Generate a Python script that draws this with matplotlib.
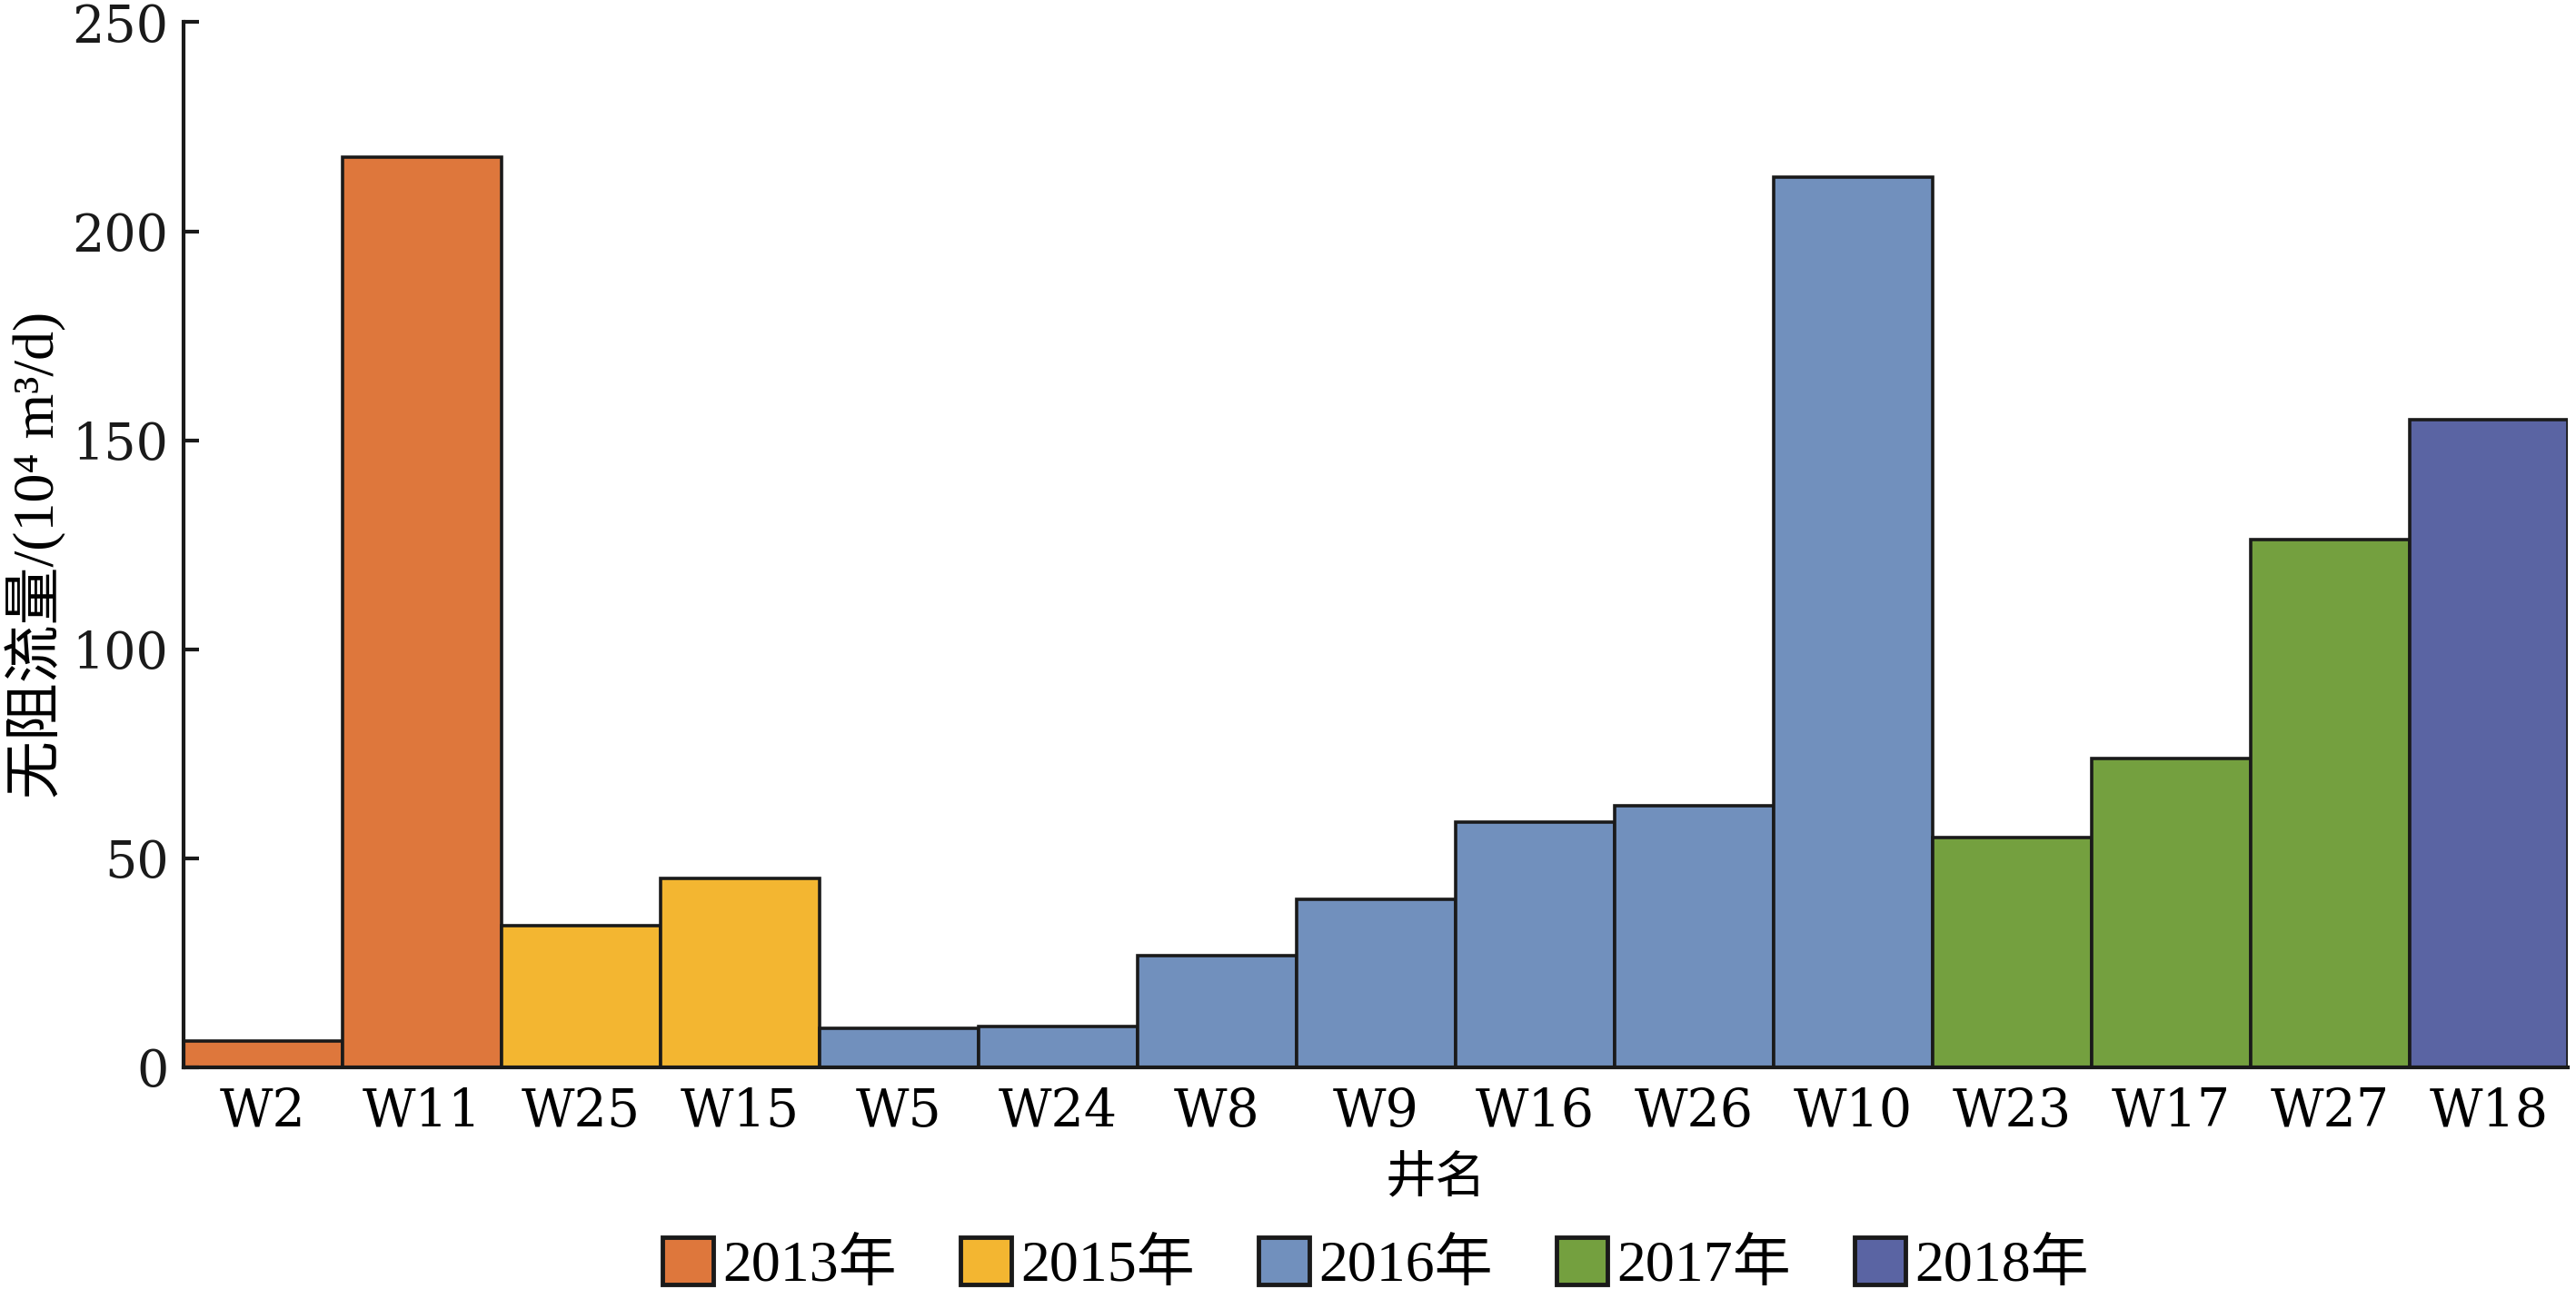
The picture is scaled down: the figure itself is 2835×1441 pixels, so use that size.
import matplotlib
matplotlib.use("Agg")
import matplotlib.pyplot as plt
from matplotlib.patches import Patch

wells = ["W2", "W11", "W25", "W15", "W5", "W24", "W8", "W9", "W16", "W26", "W10", "W23", "W17", "W27", "W18"]
flow = [6.3, 217.8, 33.8, 45.2, 9.4, 9.8, 26.7, 40.1, 58.6, 62.5, 213.0, 55.0, 73.9, 126.2, 154.9]
years = ["2013年", "2013年", "2015年", "2015年", "2016年", "2016年", "2016年", "2016年", "2016年",
         "2016年", "2016年", "2017年", "2017年", "2017年", "2018年"]
year_labels = ["2013年", "2015年", "2016年", "2017年", "2018年"]
year_colors = ["#DE773C", "#F3B631", "#7190BD", "#74A03F", "#5A64A3"]
yticks = [0, 50, 100, 150, 200, 250]

serif_num = ["DejaVu Serif", "Noto Sans CJK SC"]
serif_tm = ["Liberation Serif", "Noto Sans CJK SC"]
plt.rcParams["font.family"] = serif_num
EC = "#1a1a1a"

fig = plt.figure(figsize=(28.35, 14.41), dpi=100)
ax = fig.add_axes([0.0713, 0.1846, 0.9257, 0.7984])

cmap = dict(zip(year_labels, year_colors))
x = list(range(len(wells)))
ax.bar(x, flow, width=1.0, color=[cmap[y] for y in years], edgecolor=EC, linewidth=2.6)
ax.set_xlim(-0.5, len(wells) - 0.5)
ax.set_ylim(0, 250)
ax.set_xticks(x)
ax.set_xticklabels(wells, fontsize=41, family=serif_num)
ax.set_yticks(yticks)
ax.set_yticklabels([str(v) for v in yticks], fontsize=40, family=serif_num)
ax.tick_params(axis="x", length=0, pad=15)
ax.tick_params(axis="y", direction="in", length=12, width=3, pad=12, colors=EC)
for s in ["top", "right"]:
    ax.spines[s].set_visible(False)
for s in ["left", "bottom"]:
    ax.spines[s].set_linewidth(3)
    ax.spines[s].set_color(EC)

ax.set_xlabel("井名", fontsize=40, family=["Noto Sans CJK SC"], va="top")
ax.xaxis.set_label_coords(0.525, -0.082)
ax.set_ylabel("无阻流量/(10⁴ m³/d)", fontsize=46, family=serif_tm)
ax.yaxis.set_label_coords(-0.049, 0.49)

handles = [Patch(facecolor=c, edgecolor=EC, linewidth=3.5, label=l) for l, c in zip(year_labels, year_colors)]
fig.legend(handles=handles, loc="center", bbox_to_anchor=(0.534, 0.033), ncol=5, frameon=False,
           prop={"family": serif_tm, "size": 46}, handlelength=0.875, handleheight=0.875,
           handletextpad=0.17, columnspacing=1.09, borderaxespad=0, borderpad=0)

fig.savefig("out.png", dpi=100)
